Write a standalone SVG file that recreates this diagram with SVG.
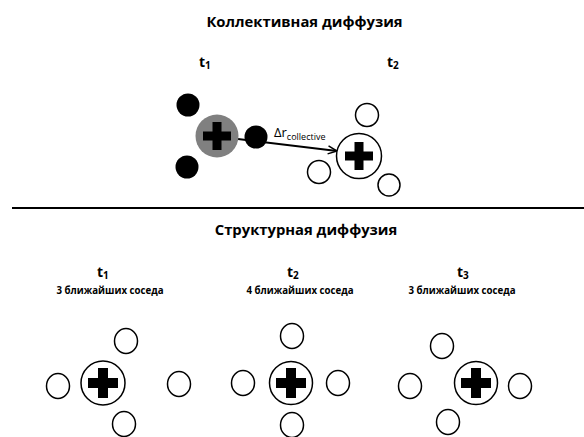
<svg xmlns="http://www.w3.org/2000/svg" width="584" height="437" viewBox="0 0 584 437">
<style>
text{font-family:"Open Sans","Noto Sans","DejaVu Sans",sans-serif;font-weight:bold;fill:#000}
.title{font-size:14.8px}
.t{font-size:14px}
.sub{font-size:10px}
.lbl{font-size:9.7px}
.ring{fill:#fff;stroke:#000;stroke-width:1.5}
.blk{fill:#000}
.conn{stroke:#000;stroke-width:2;fill:none}
</style>
<defs>
<marker id="ah" markerWidth="12" markerHeight="10" refX="10" refY="5" orient="auto" markerUnits="userSpaceOnUse">
<path d="M1,1 L10,5 L1,9" fill="none" stroke="#000" stroke-width="1.5"/>
</marker>
<path id="crossS" d="M-4.5,-14 H4.5 V-4.5 H14 V4.5 H4.5 V14 H-4.5 V4.5 H-14 V-4.5 H-4.5 Z"/>
<path id="crossL" d="M-5,-15 H5 V-5 H15 V5 H5 V15 H-5 V5 H-15 V-5 H-5 Z"/>
</defs>
<rect width="584" height="437" fill="#fff"/>

<text class="title" x="304.5" y="27" text-anchor="middle">Коллективная диффузия</text>
<text class="title" x="306" y="235" text-anchor="middle">Структурная диффузия</text>
<line x1="12" y1="208" x2="584" y2="208" stroke="#000" stroke-width="2"/>

<g id="top-t1-label"><text class="t" x="199" y="67">t<tspan class="sub" dy="2">1</tspan></text></g>
<g id="top-t2-label"><text class="t" x="387" y="67">t<tspan class="sub" dy="2">2</tspan></text></g>

<g id="connectors">
<line class="conn" x1="238" y1="139" x2="337" y2="151" marker-end="url(#ah)"/>
</g>

<g id="top-t1">
<circle cx="188" cy="105" r="11.5" class="blk"/>
<circle cx="187" cy="167" r="11.5" class="blk"/>
<circle cx="217" cy="136" r="21.5" fill="#808080"/>
<use href="#crossS" x="217" y="136"/>
<circle cx="256" cy="137" r="11.5" class="blk"/>
</g>
<g id="delta-label"><text x="274" y="137" style="font-weight:normal;font-size:13px">Δr<tspan dy="3" style="font-size:9px">collective</tspan></text></g>

<g id="top-t2">
<circle cx="367" cy="115" r="11.5" class="ring"/>
<circle cx="319" cy="172" r="11.5" class="ring"/>
<circle cx="389" cy="185" r="11" class="ring"/>
<circle cx="359" cy="156" r="22.5" class="ring"/>
<use href="#crossS" x="359" y="156"/>
</g>

<g id="bottom-t1">
<text class="t" x="97" y="277">t<tspan class="sub" dy="2">1</tspan></text>
<text class="lbl" x="110" y="294" text-anchor="middle">3 ближайших соседа</text>
<ellipse cx="126" cy="341" rx="11.5" ry="12.5" class="ring"/>
<ellipse cx="58" cy="386" rx="11.5" ry="12.5" class="ring"/>
<ellipse cx="179" cy="384" rx="11.5" ry="12.5" class="ring"/>
<ellipse cx="124" cy="424" rx="11.5" ry="12.5" class="ring"/>
<circle cx="103" cy="383" r="22" class="ring"/>
<use href="#crossL" x="103" y="383"/>
</g>

<g id="bottom-t2">
<text class="t" x="287" y="277">t<tspan class="sub" dy="2">2</tspan></text>
<text class="lbl" x="300" y="294" text-anchor="middle">4 ближайших соседа</text>
<ellipse cx="292" cy="336" rx="11.5" ry="12.5" class="ring"/>
<ellipse cx="243" cy="383" rx="11.5" ry="12.5" class="ring"/>
<ellipse cx="338" cy="383" rx="11.5" ry="12.5" class="ring"/>
<ellipse cx="292" cy="425" rx="11.5" ry="12.5" class="ring"/>
<circle cx="291" cy="383" r="21.5" class="ring"/>
<use href="#crossL" x="291" y="383"/>
</g>

<g id="bottom-t3">
<text class="t" x="457" y="277">t<tspan class="sub" dy="2">3</tspan></text>
<text class="lbl" x="462" y="294" text-anchor="middle">3 ближайших соседа</text>
<ellipse cx="442" cy="346" rx="11.5" ry="12.5" class="ring"/>
<ellipse cx="410" cy="386" rx="11.5" ry="12.5" class="ring"/>
<ellipse cx="520" cy="386" rx="11.5" ry="12.5" class="ring"/>
<ellipse cx="448" cy="422" rx="11.5" ry="12.5" class="ring"/>
<circle cx="476" cy="383" r="21.5" class="ring"/>
<use href="#crossL" x="476" y="383"/>
</g>
</svg>
